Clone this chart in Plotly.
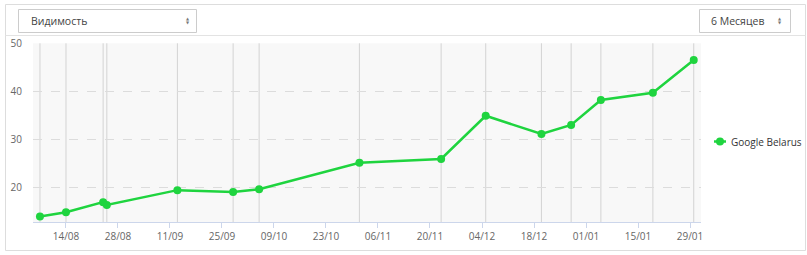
import plotly.graph_objects as go

# ---- data ----
dates = ["2017-08-07", "2017-08-14", "2017-08-24", "2017-08-25", "2017-09-13",
         "2017-09-28", "2017-10-05", "2017-11-01", "2017-11-23", "2017-12-05",
         "2017-12-20", "2017-12-28", "2018-01-05", "2018-01-19", "2018-01-30"]
visibility = [13.9, 14.8, 16.9, 16.3, 19.4, 19.0, 19.6, 25.1, 25.9, 34.9,
              31.1, 33.0, 38.2, 39.7, 46.5]
series_name = "Google Belarus"
y_ticks = [20, 30, 40, 50]
metric_label = "Видимость"
period_label = "6 Месяцев"

W, H = 807, 255
GREEN = "#1fd43f"
FONT = "Open Sans"


def px(x):
    return x / W


def py(y):
    return 1 - y / H


fig = go.Figure()
fig.add_trace(go.Scatter(
    x=dates, y=visibility, name=series_name, mode="lines+markers",
    line=dict(color=GREEN, width=2.5),
    marker=dict(color=GREEN, size=8),
    showlegend=False,
))

shapes = []
# vertical lines at each data point
for d in dates:
    shapes.append(dict(type="line", xref="x", yref="paper", x0=d, x1=d,
                       y0=py(222.3), y1=py(43.3),
                       line=dict(color="#d3d3d3", width=1), layer="below"))
# outer panel border
shapes.append(dict(type="rect", xref="paper", yref="paper",
                   x0=px(5.5), x1=px(805.5), y0=py(250.5), y1=py(4.5),
                   line=dict(color="#dddddd", width=1)))
# header separator
shapes.append(dict(type="line", xref="paper", yref="paper",
                   x0=px(5.5), x1=px(805.5), y0=py(35.5), y1=py(35.5),
                   line=dict(color="#e3e3e3", width=1)))
# select boxes
for (x0, x1) in [(18.5, 196.5), (699.5, 790.5)]:
    shapes.append(dict(type="rect", xref="paper", yref="paper",
                       x0=px(x0), x1=px(x1), y0=py(32.5), y1=py(9.5),
                       line=dict(color="#cccccc", width=1)))
# legend symbol (line + dot)
shapes.append(dict(type="line", xref="paper", yref="paper",
                   x0=px(714), x1=px(726), y0=py(141.5), y1=py(141.5),
                   line=dict(color=GREEN, width=2.5)))
shapes.append(dict(type="circle", xref="paper", yref="paper",
                   x0=px(716), x1=px(724), y0=py(145.5), y1=py(137.5),
                   line=dict(color=GREEN, width=0), fillcolor=GREEN))

annotations = [
    dict(text=metric_label, x=px(29), y=py(20.5), xref="paper", yref="paper",
         xanchor="left", yanchor="middle", showarrow=False,
         font=dict(family=FONT, size=10.5, color="#444")),
    dict(text=period_label, x=px(709), y=py(20.5), xref="paper", yref="paper",
         xanchor="left", yanchor="middle", showarrow=False,
         font=dict(family=FONT, size=10.5, color="#444")),
    dict(text=series_name, x=px(729), y=py(141.5), xref="paper", yref="paper",
         xanchor="left", yanchor="middle", showarrow=False,
         font=dict(family=FONT, size=10, color="#333")),
]
for xa in [187.5, 779.5]:
    annotations.append(dict(text="▲", x=px(xa), y=py(18.5), xref="paper", yref="paper",
                            showarrow=False, xanchor="center", yanchor="middle",
                            font=dict(family="DejaVu Sans", size=4, color="#777")))
    annotations.append(dict(text="▼", x=px(xa), y=py(22.5), xref="paper", yref="paper",
                            showarrow=False, xanchor="center", yanchor="middle",
                            font=dict(family="DejaVu Sans", size=4, color="#777")))

fig.update_layout(
    width=W, height=H,
    margin=dict(l=0, r=0, t=0, b=0, autoexpand=False),
    paper_bgcolor="white",
    plot_bgcolor="#f8f8f8",
    font=dict(family=FONT, size=10, color="#666"),
    shapes=shapes,
    annotations=annotations,
    showlegend=False,
    xaxis=dict(
        domain=[px(33), px(701)],
        type="date",
        range=["2017-08-05 03:00", "2018-01-31 23:00"],
        tick0="2017-08-14", dtick=14 * 24 * 3600 * 1000,
        tickformat="%d/%m",
        ticks="outside", ticklen=5, tickcolor="#ccd6eb",
        showline=True, linecolor="#ccd6eb", linewidth=1,
        showgrid=False, zeroline=False,
        tickfont=dict(family=FONT, size=10, color="#666"),
    ),
    yaxis=dict(
        domain=[py(222.3), py(43.3)],
        range=[12.7, 50],
        tickvals=y_ticks,
        showgrid=True, gridcolor="#dcdcdc", griddash="dash", gridwidth=1,
        zeroline=False, showline=False, ticks="",
        ticklabelstandoff=10,
        tickfont=dict(family=FONT, size=10, color="#666"),
    ),
)

fig.write_html("out.html")
